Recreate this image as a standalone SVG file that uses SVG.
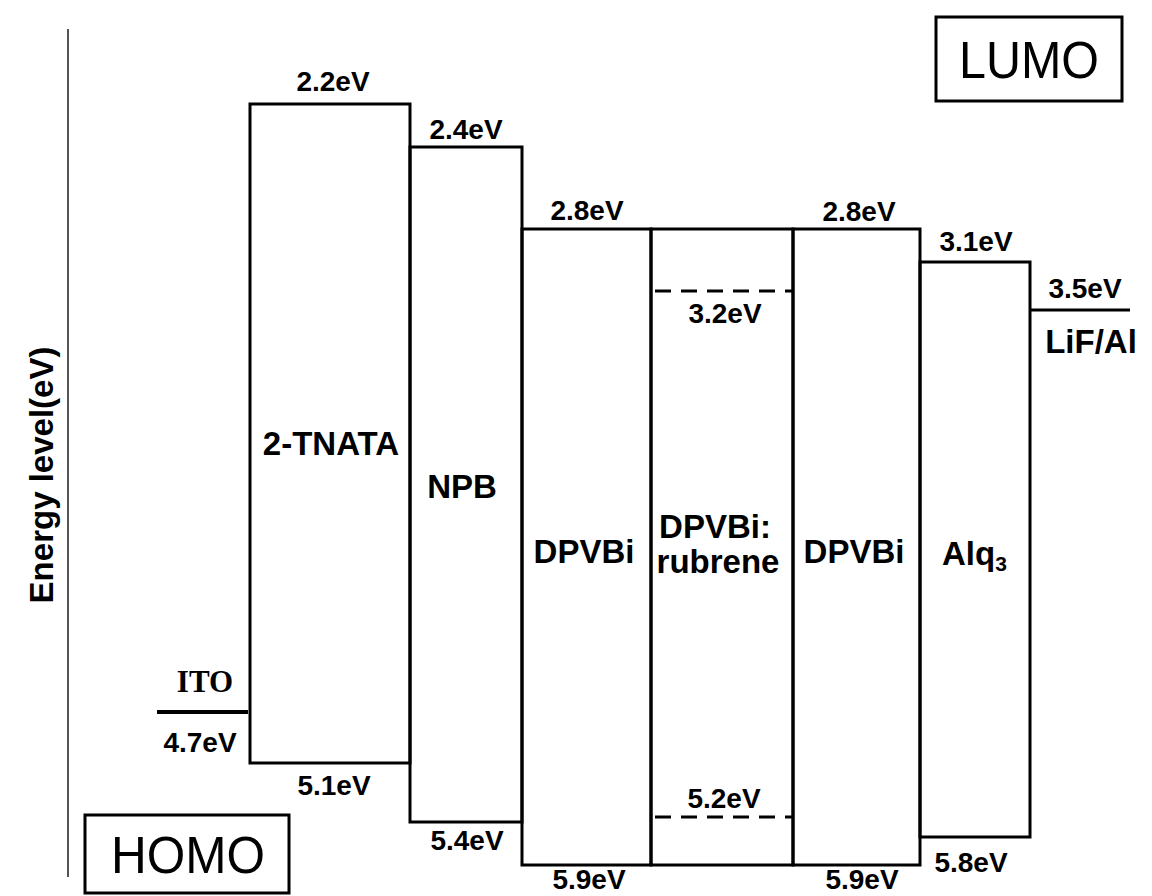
<svg xmlns="http://www.w3.org/2000/svg" width="1152" height="896" viewBox="0 0 1152 896">
<style>
.box{fill:none;stroke:#000;stroke-width:3}
.lvl{stroke:#000;stroke-width:3;fill:none}
.dash{stroke:#000;stroke-width:3;stroke-dasharray:16 10;fill:none}
.ev{font-family:"Liberation Sans",Arial,sans-serif;font-weight:bold;font-size:28px;text-anchor:middle;fill:#000}
.name{font-family:"Liberation Sans",Arial,sans-serif;font-weight:bold;font-size:33px;text-anchor:middle;fill:#000}
.big{font-family:"Liberation Sans",Arial,sans-serif;font-size:52px;text-anchor:middle;fill:#000}
</style>
<rect width="1152" height="896" fill="#fff"/>
<g id="axis">
<line x1="68" y1="29" x2="68" y2="877" stroke="#555" stroke-width="2"/>
<text class="name" transform="translate(53,475) rotate(-90)" x="0" y="0">Energy level(eV)</text>
</g>
<g id="lumo-legend">
<rect class="box" x="936" y="17" width="186" height="84"/>
<text class="big" x="1029" y="78" textLength="140" lengthAdjust="spacingAndGlyphs">LUMO</text>
</g>
<g id="homo-legend">
<rect class="box" x="85" y="815" width="204" height="78"/>
<text class="big" x="188" y="873" textLength="154" lengthAdjust="spacingAndGlyphs">HOMO</text>
</g>
<g id="ito">
<line x1="157" y1="712" x2="248" y2="712" stroke="#000" stroke-width="4"/>
<text x="205" y="692" font-family="'Liberation Serif','Times New Roman',serif" font-weight="bold" font-size="31" text-anchor="middle">ITO</text>
<text class="ev" x="200" y="752">4.7eV</text>
</g>
<g id="tnata">
<rect class="box" x="250" y="104" width="160" height="659"/>
<text class="name" x="331" y="455">2-TNATA</text>
<text class="ev" x="333" y="91">2.2eV</text>
<text class="ev" x="334" y="795">5.1eV</text>
</g>
<g id="npb">
<rect class="box" x="410" y="147" width="112" height="675"/>
<text class="name" x="462" y="498">NPB</text>
<text class="ev" x="466" y="139">2.4eV</text>
<text class="ev" x="467" y="850">5.4eV</text>
</g>
<g id="dpvbi1">
<rect class="box" x="522" y="229" width="129" height="636"/>
<text class="name" x="584" y="563">DPVBi</text>
<text class="ev" x="587" y="220">2.8eV</text>
<text class="ev" x="589" y="889">5.9eV</text>
</g>
<g id="dpvbi-rubrene">
<rect class="box" x="651" y="229" width="142" height="636"/>
<line class="dash" x1="655" y1="291" x2="793" y2="291"/>
<line class="dash" x1="655" y1="817" x2="793" y2="817"/>
<text class="name" x="715" y="538">DPVBi:</text>
<text class="name" x="718" y="573">rubrene</text>
<text class="ev" x="725" y="323">3.2eV</text>
<text class="ev" x="724" y="808">5.2eV</text>
</g>
<g id="dpvbi2">
<rect class="box" x="793" y="229" width="127" height="636"/>
<text class="name" x="854" y="563">DPVBi</text>
<text class="ev" x="859" y="221">2.8eV</text>
<text class="ev" x="862" y="889">5.9eV</text>
</g>
<g id="alq3">
<rect class="box" x="920" y="262" width="110" height="575"/>
<text x="942" y="565" font-family="'Liberation Sans',Arial,sans-serif" font-weight="bold" font-size="33">Alq<tspan font-size="21" dy="6">3</tspan></text>
<text class="ev" x="976" y="251">3.1eV</text>
<text class="ev" x="971" y="872">5.8eV</text>
</g>
<g id="lifal">
<line class="lvl" x1="1030" y1="310" x2="1130" y2="310"/>
<text class="ev" x="1085" y="298">3.5eV</text>
<text class="name" x="1091" y="353">LiF/Al</text>
</g>
<g id="connectors"></g>
</svg>
